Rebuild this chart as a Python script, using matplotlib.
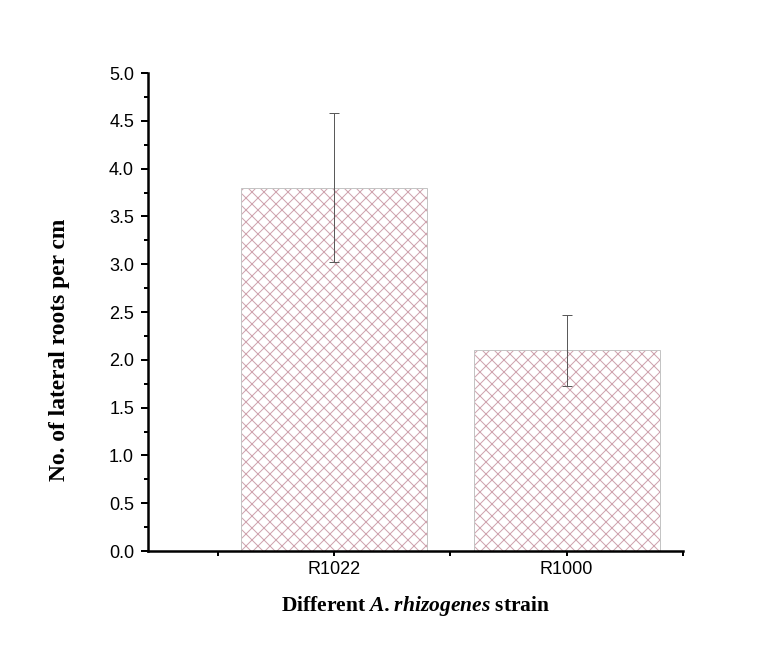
import matplotlib
matplotlib.use('Agg')
import matplotlib.pyplot as plt
import numpy as np

# bar chart of lateral roots per cm for two strains
strains = ['R1022', 'R1000']
roots = [3.8, 2.1]
err = [0.78, 0.37]

plt.rcParams['hatch.linewidth'] = 1.0
plt.rcParams['mathtext.fontset'] = 'custom'
plt.rcParams['mathtext.bfit'] = 'Liberation Serif:italic:bold'
plt.rcParams['mathtext.rm'] = 'Liberation Serif'

fig = plt.figure(figsize=(775/72, 653/72), dpi=72)
ax = fig.add_axes([0.191, 0.1562, 0.690, 0.732])

xpos = np.arange(1, len(strains) + 1)
# hatch layer (pink), then the grey outline on top
ax.bar(xpos, roots, width=0.8, color='white', edgecolor='#cfa3ae',
       linewidth=0, hatch='xx', zorder=2)
ax.bar(xpos, roots, width=0.8, fill=False, edgecolor='#c4c4c4',
       linewidth=1.0, zorder=2.5)
ax.errorbar(xpos, roots, yerr=err, fmt='none', ecolor='#5a5a5a',
            elinewidth=1.0, capsize=5, capthick=1.0, zorder=3)

ax.set_xlim(0.2, 2.5)
ax.set_ylim(0, 5.0)
ax.set_xticks(xpos)
ax.set_xticklabels(strains)
ax.set_xticks([0.5, 1.5, 2.5], minor=True)
ax.set_yticks(np.arange(0, 5.01, 0.5))
ax.set_yticklabels(['%.1f' % v for v in np.arange(0, 5.01, 0.5)])
ax.set_yticks(np.arange(0.25, 5.0, 0.5), minor=True)

for s in ['top', 'right']:
    ax.spines[s].set_visible(False)
for s in ['left', 'bottom']:
    ax.spines[s].set_linewidth(2.5)

ax.tick_params(axis='y', which='major', length=7, width=2, labelsize=18,
               direction='out', pad=7)
ax.tick_params(axis='y', which='minor', length=4, width=2, direction='out')
ax.tick_params(axis='x', which='both', length=5, width=2, direction='out',
               labelsize=18, pad=5)
for lab in ax.get_xticklabels() + ax.get_yticklabels():
    lab.set_fontfamily('Liberation Sans')

ax.set_ylabel('No. of lateral roots per cm', fontfamily='Liberation Serif',
              fontweight='bold', fontsize=23.5)
ax.yaxis.set_label_coords(-0.146, 0.42)
ax.set_xlabel(r'Different $\mathbfit{A.rhizogenes}$ strain',
              fontfamily='Liberation Serif', fontweight='bold', fontsize=21.5,
              labelpad=16)

fig.savefig('out.png', dpi=72, facecolor='white')
